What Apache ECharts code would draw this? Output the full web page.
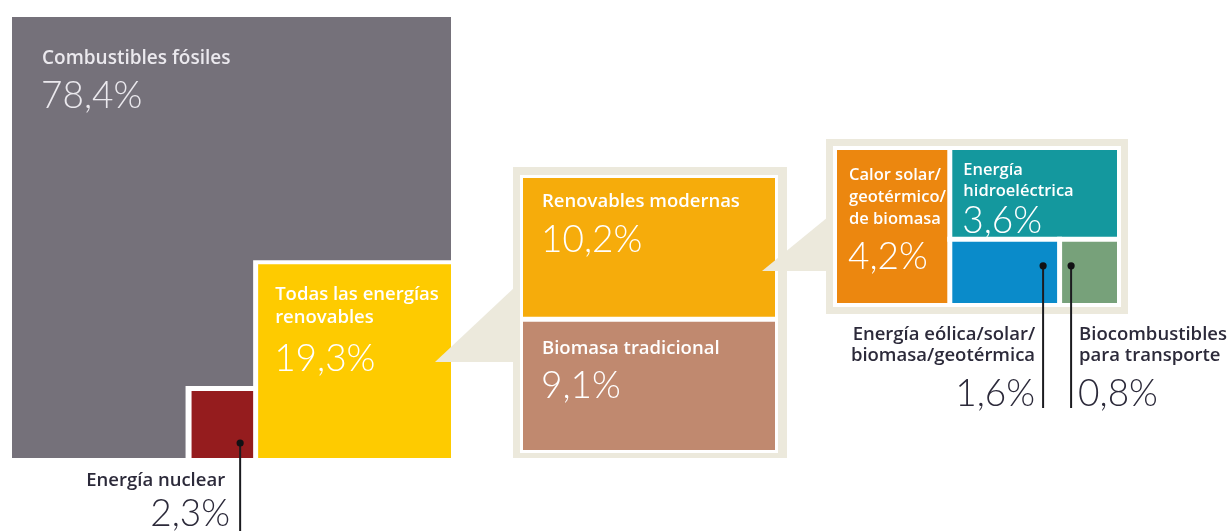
<!DOCTYPE html>
<html>
<head>
<meta charset="utf-8">
<script src="https://cdn.jsdelivr.net/npm/echarts@6/dist/echarts.min.js"></script>
<style>
  html, body { margin: 0; padding: 0; background: #ffffff; }
  #chart { width: 1228px; height: 531px; }
</style>
</head>
<body>
<div id="chart"></div>
<script>
// Share of global final energy consumption, by source (%)
const mixNames = ['Combustibles fósiles', 'Energía nuclear', 'Todas las energías\nrenovables'];
const mixValues = [78.4, 2.3, 19.3];

// Breakdown of all renewables (%)
const renewableNames = ['Renovables modernas', 'Biomasa tradicional'];
const renewableValues = [10.2, 9.1];

// Breakdown of modern renewables (%)
const modernNames = [
  'Calor solar/\ngeotérmico/\nde biomasa',
  'Energía\nhidroeléctrica',
  'Energía eólica/solar/\nbiomasa/geotérmica',
  'Biocombustibles\npara transporte'
];
const modernValues = [4.2, 3.6, 1.6, 0.8];

// ---- colours and type ----
const mixColors = ['#75717a', '#951c1e', '#fecb00'];
const renewableColors = ['#f6ac0b', '#c0896f'];
const modernColors = ['#ec870f', '#14989e', '#0a8bca', '#77a17a'];
const FRAME = '#ece9dc';
const DARK = '#2c2a3a';
const TITLE_FONT = "'Open Sans', 'Lato', sans-serif";
const TITLE_WEIGHT = 600;
const NUM_FONT = "'Lato', 'Open Sans', sans-serif";

const sum = arr => arr.reduce((s, v) => s + v, 0);
const fmt = v => v.toFixed(1).replace('.', ',') + '%';

// ---- panel geometry built from the values ----
// Left panel: squares whose side is the square root of the share (area ∝ share)
const mixSide = Math.sqrt(sum(mixValues));
const nucSide = Math.sqrt(mixValues[1]);
const renSide = Math.sqrt(mixValues[2]);
const mixData = [
  [0, 0, mixSide, mixSide],
  [mixSide - renSide - nucSide, mixSide - nucSide, mixSide - renSide, mixSide],
  [mixSide - renSide, mixSide - renSide, mixSide, mixSide]
];

// Middle panel: renewables stacked vertically
let acc = 0;
const renewableData = renewableValues.map(v => {
  const r = [0, acc, 1, acc + v];
  acc += v;
  return r;
});

// Right panel: heat on the left, hydro over wind/solar and biofuels on the right
const modTotal = sum(modernValues);
const colX = modernValues[0];
const colTotal = modTotal - colX;
const hydroFrac = modernValues[1] / colTotal;
const windX = colX + colTotal * modernValues[2] / (modernValues[2] + modernValues[3]);
const modernData = [
  [0, 0, colX, 1],
  [colX, 0, modTotal, hydroFrac],
  [colX, hydroFrac, windX, 1],
  [windX, hydroFrac, modTotal, 1]
];

// ---- label placement for each box ----
const mixLayout = [
  { label: { dx: 30, dy: 41.5, lh: 23, ndy: 79.5, size: 19, color: '#ebe9ee' } },
  { gap: { l: 6, t: 5 },
    callout: { fx: 1, dx: -18, fy: 1, dy: -15, lineTo: 531, side: 'left', tdx: 15, ndx: 10, titleY: 480.5, numY: 514.5 } },
  { gap: { l: 5, t: 4 }, label: { dx: 17, dy: 30, lh: 23.5, ndy: 95, size: 18.5, color: '#ffffff' } }
];
const renewableLayout = [
  { label: { dx: 19, dy: 23.5, lh: 23, ndy: 62, size: 18.5, color: '#ffffff' } },
  { gap: { l: 0, t: 5 }, label: { dx: 19, dy: 27, lh: 23, ndy: 64, size: 18.5, color: '#ffffff' } }
];
const modernLayout = [
  { label: { dx: 12, dy: 25, lh: 22, ndy: 107, size: 16.5, color: '#ffffff' } },
  { gap: { l: 5, t: 0 }, label: { dx: 11, dy: 20, lh: 21, ndy: 71, size: 16.5, color: '#ffffff' } },
  { gap: { l: 5, t: 5 },
    callout: { fx: 1, dx: -19, fy: 0, dy: 24, lineTo: 408, side: 'left', tdx: 8, ndx: 8, titleY: 334.5, numY: 394.5 } },
  { gap: { l: 5, t: 5 },
    callout: { fx: 0, dx: 9, fy: 0, dy: 24, lineTo: 408, side: 'right', tdx: 8, ndx: 7, titleY: 334.5, numY: 394.5 } }
];

function textEl(str, x, y, size, color, align, font, weight) {
  return {
    type: 'text',
    silent: true,
    style: {
      text: str, x: x, y: y,
      fill: color,
      fontSize: size, fontFamily: font, fontWeight: weight,
      align: align, verticalAlign: 'middle',
      textAlign: align, textVerticalAlign: 'middle'
    }
  };
}

function makeRender(names, values, colors, layout) {
  return function (params, api) {
    const i = params.dataIndex;
    const a = api.coord([api.value(0), api.value(1)]);
    const b = api.coord([api.value(2), api.value(3)]);
    const x = Math.min(a[0], b[0]);
    const y = Math.min(a[1], b[1]);
    const w = Math.abs(b[0] - a[0]);
    const h = Math.abs(b[1] - a[1]);
    const L = layout[i];
    const kids = [];
    if (L.gap) {
      kids.push({ type: 'rect', silent: true,
        shape: { x: x - L.gap.l, y: y - L.gap.t, width: w + L.gap.l, height: h + L.gap.t },
        style: { fill: '#ffffff' } });
    }
    kids.push({ type: 'rect', shape: { x: x, y: y, width: w, height: h }, style: { fill: colors[i] } });

    if (L.label) {
      const lb = L.label;
      names[i].split('\n').forEach((line, k) => {
        kids.push(textEl(line, x + lb.dx, y + lb.dy + k * lb.lh, lb.size, lb.color, 'left', TITLE_FONT, TITLE_WEIGHT));
      });
      kids.push(textEl(fmt(values[i]), x + lb.dx - 1, y + lb.ndy, 37, lb.color, 'left', NUM_FONT, 300));
    }
    if (L.callout) {
      const c = L.callout;
      const dx = x + c.fx * w + c.dx;
      const dy = y + c.fy * h + c.dy;
      kids.push({ type: 'line', silent: true,
        shape: { x1: dx, y1: dy, x2: dx, y2: c.lineTo },
        style: { stroke: '#1b1b1f', lineWidth: 2 } });
      kids.push({ type: 'circle', silent: true,
        shape: { cx: dx, cy: dy, r: 3.6 }, style: { fill: '#111114' } });
      const align = c.side === 'left' ? 'right' : 'left';
      const sgn = c.side === 'left' ? -1 : 1;
      names[i].split('\n').forEach((line, k) => {
        kids.push(textEl(line, dx + sgn * c.tdx, c.titleY + k * 21.5, 18.5, DARK, align, TITLE_FONT, TITLE_WEIGHT));
      });
      kids.push(textEl(fmt(values[i]), dx + sgn * c.ndx, c.numY, 37, DARK, align, NUM_FONT, 300));
    }
    return { type: 'group', children: kids };
  };
}

// ---- grids (one per panel) ----
const gridMix = { left: 12, top: 17, width: 439, height: 441 };
const gridRen = { left: 523, top: 178, width: 252, height: 272 };
const gridMod = { left: 837, top: 150, width: 280, height: 153 };

function frame(g, pad, ring) {
  return [
    { type: 'rect', z: 0, silent: true,
      shape: { x: g.left - pad.l, y: g.top - pad.t,
               width: g.width + pad.l + pad.r, height: g.height + pad.t + pad.b },
      style: { fill: FRAME } },
    { type: 'rect', z: 0, silent: true,
      shape: { x: g.left - ring, y: g.top - ring,
               width: g.width + 2 * ring, height: g.height + 2 * ring },
      style: { fill: '#ffffff' } }
  ];
}
const padRen = { l: 10, t: 11, r: 12, b: 8 };
const padMod = { l: 11, t: 11, r: 11, b: 11 };
const frameRenLeft = gridRen.left - padRen.l;
const frameModLeft = gridMod.left - padMod.l;

// connector wedges pointing from a box to its breakdown
const wedges = [
  [[gridMix.left + gridMix.width - 16, 362], [frameRenLeft + 2, 287], [frameRenLeft + 2, 362]],
  [[gridRen.left + gridRen.width - 13, 271], [frameModLeft + 2, 217], [frameModLeft + 2, 271]]
].map(pts => ({ type: 'polygon', z: 100, silent: true, shape: { points: pts }, style: { fill: FRAME } }));

const hiddenAxis = (idx, min, max, inverse) => ({
  type: 'value', gridIndex: idx, min: min, max: max, inverse: !!inverse, show: false
});

const chart = echarts.init(document.getElementById('chart'), null, { renderer: 'canvas' });
chart.setOption({
  animation: false,
  backgroundColor: '#ffffff',
  grid: [gridMix, gridRen, gridMod],
  xAxis: [
    hiddenAxis(0, 0, mixSide),
    hiddenAxis(1, 0, 1),
    hiddenAxis(2, 0, modTotal)
  ],
  yAxis: [
    hiddenAxis(0, 0, mixSide, true),
    hiddenAxis(1, 0, sum(renewableValues), true),
    hiddenAxis(2, 0, 1, true)
  ],
  graphic: { elements: [...frame(gridRen, padRen, 3), ...frame(gridMod, padMod, 4), ...wedges] },
  series: [
    { type: 'custom', xAxisIndex: 0, yAxisIndex: 0, z: 2, data: mixData,
      renderItem: makeRender(mixNames, mixValues, mixColors, mixLayout) },
    { type: 'custom', xAxisIndex: 1, yAxisIndex: 1, z: 2, data: renewableData,
      renderItem: makeRender(renewableNames, renewableValues, renewableColors, renewableLayout) },
    { type: 'custom', xAxisIndex: 2, yAxisIndex: 2, z: 2, data: modernData,
      renderItem: makeRender(modernNames, modernValues, modernColors, modernLayout) }
  ]
});
</script>
</body>
</html>
